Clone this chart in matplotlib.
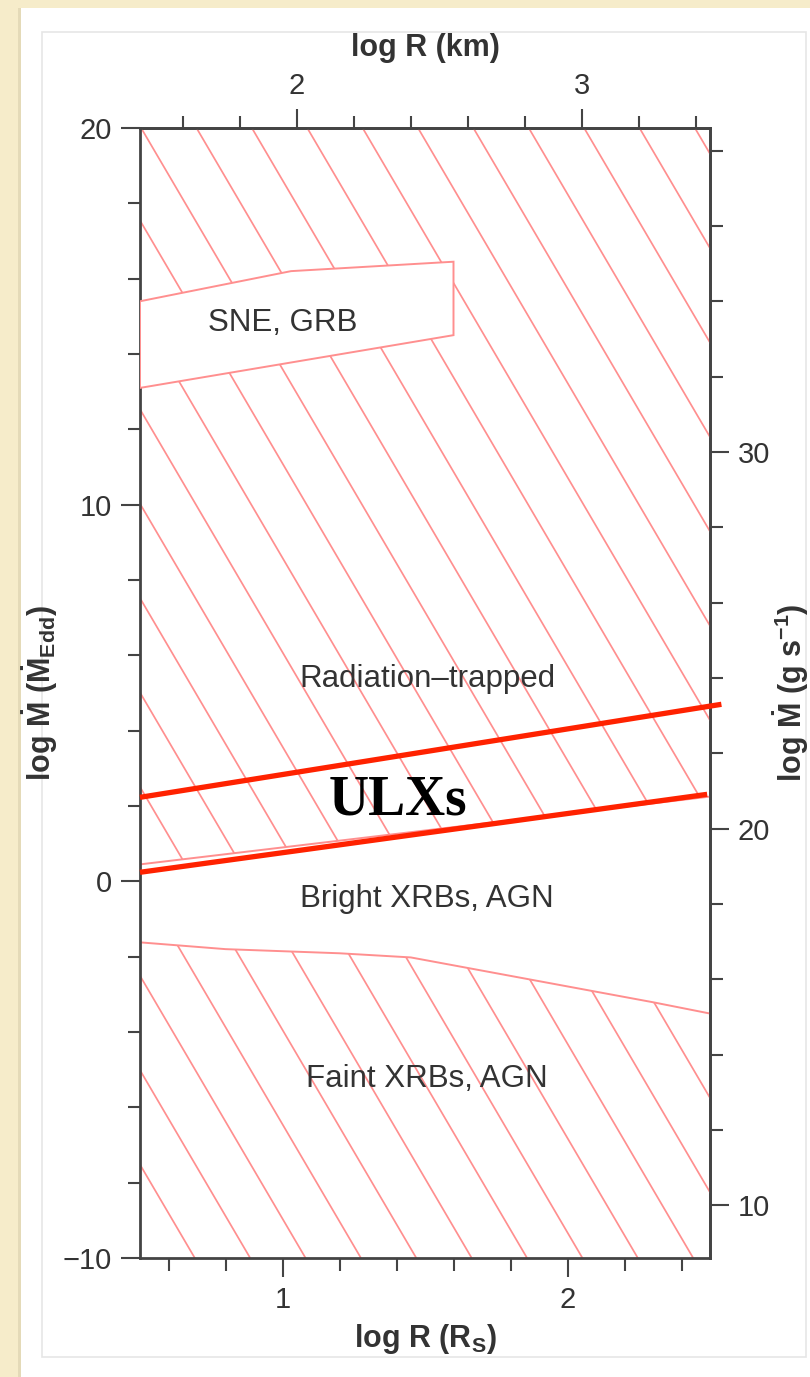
import numpy as np
import matplotlib
matplotlib.use("Agg")
import matplotlib.pyplot as plt
from matplotlib.patches import Polygon, Rectangle
from matplotlib.ticker import MultipleLocator, FixedLocator, FuncFormatter

# ---------------- data ----------------
x_range = [0.5, 2.5]          # log R (R_S)
y_range = [-10, 20]           # log Mdot (Mdot_Edd)
km_offset = 0.95              # log R(km) - log R(R_S)
gs_offset = 18.6              # log Mdot(g/s) - log Mdot(Edd)

sne_x = [0.5, 1.03, 1.6, 1.6, 0.5]
sne_y = [15.4, 16.2, 16.45, 14.5, 13.1]

trapped_low_x = [0.5, 2.5]
trapped_low_y = [0.45, 2.25]

faint_top_x = [0.5, 0.8, 1.2, 1.45, 1.65, 1.9, 2.1, 2.3, 2.5]
faint_top_y = [-1.62, -1.8, -1.91, -2.02, -2.3, -2.65, -2.93, -3.21, -3.51]

ulx_upper_x = [0.5, 2.54]
ulx_upper_y = [2.23, 4.70]
ulx_lower_x = [0.5, 2.49]
ulx_lower_y = [0.24, 2.31]

region_labels = ["SNE, GRB", "Radiation\u2013trapped", "Bright XRBs, AGN", "Faint XRBs, AGN"]
label_x = [1.0, 1.51, 1.507, 1.505]
label_y = [14.6, 5.15, -0.69, -5.47]

bottom_major = [1, 2]
top_major = [2, 3]

# ---------------- style ----------------
plt.rcParams['font.family'] = ['Liberation Sans', 'DejaVu Sans']
plt.rcParams['mathtext.fontset'] = 'custom'
plt.rcParams['mathtext.rm'] = 'Liberation Sans'
plt.rcParams['mathtext.bf'] = 'Liberation Sans:bold'
plt.rcParams['mathtext.it'] = 'Liberation Sans:italic'

BEIGE = '#f6ecca'
PINK = '#ff8f8f'
RED = '#ff2200'
SPINE = '#444444'
TXT = '#333333'

W, H = 810, 1377
fig = plt.figure(figsize=(W / 100, H / 100), dpi=100, facecolor=BEIGE)
# white panel and faint inner frame
fig.patches.append(Rectangle((18 / W, 0), 3 / W, 1 - 8 / H, transform=fig.transFigure,
                             facecolor='#e4dab8', edgecolor='none', zorder=-11))
fig.patches.append(Rectangle((21 / W, 0), 1 - 21 / W, 1 - 8 / H, transform=fig.transFigure,
                             facecolor='white', edgecolor='none', zorder=-10))
fig.patches.append(Rectangle((42 / W, (H - 1357) / H), (806 - 42) / W, (1357 - 32) / H,
                             transform=fig.transFigure, fill=False, edgecolor='#e6e6e6',
                             lw=1.2, zorder=-9))

ax = fig.add_axes([140 / W, (H - 1258) / H, 570 / W, 1130 / H])
ax.set_facecolor('white')
ax.set_xlim(*x_range)
ax.set_ylim(*y_range)

# ---------------- hatched regions ----------------
upper_poly = Polygon(list(zip(trapped_low_x, trapped_low_y)) +
                     [(x_range[1], y_range[1]), (x_range[0], y_range[1])],
                     closed=True, facecolor='none', edgecolor='none')
lower_poly = Polygon(list(zip(faint_top_x, faint_top_y)) +
                     [(x_range[1], y_range[0]), (x_range[0], y_range[0])],
                     closed=True, facecolor='none', edgecolor='none')
ax.add_patch(upper_poly)
ax.add_patch(lower_poly)

hx0, hdx, hslope = 0.504, 0.1943, -12.9
span = (y_range[1] - y_range[0]) / -hslope
for poly in (upper_poly, lower_poly):
    for k in range(-14, 12):
        xk = hx0 + k * hdx
        ln, = ax.plot([xk, xk + span], [y_range[1], y_range[0]], color=PINK, lw=1.25,
                      solid_capstyle='butt', zorder=1)
        ln.set_clip_path(poly)

ax.plot(trapped_low_x, trapped_low_y, color=PINK, lw=1.4, zorder=2)
ax.plot(faint_top_x, faint_top_y, color=PINK, lw=1.4, zorder=2)
ax.add_patch(Polygon(list(zip(sne_x, sne_y)), closed=True, facecolor='white',
                     edgecolor=PINK, lw=1.4, zorder=3))

# ---------------- ULX lines ----------------
ax.plot(ulx_upper_x, ulx_upper_y, color=RED, lw=3.8, solid_capstyle='butt',
        zorder=5, clip_on=False)
ax.plot(ulx_lower_x, ulx_lower_y, color=RED, lw=3.8, solid_capstyle='butt',
        zorder=5, clip_on=False)

# ---------------- labels ----------------
for t, x, y in zip(region_labels, label_x, label_y):
    ax.text(x, y, t, ha='center', va='baseline', fontsize=22.5, color=TXT, zorder=6)
ax.text(1.404, 1.78, 'ULXs', ha='center', va='baseline', fontsize=40,
        fontweight='bold', family=['Liberation Serif', 'DejaVu Serif'], color='black', zorder=6)

# ---------------- axes / ticks ----------------
fmt = FuncFormatter(lambda v, p: f'{v:.0f}'.replace('-', '\u2212'))
for s in ax.spines.values():
    s.set_linewidth(2.0)
    s.set_color(SPINE)

def style_ticks(a):
    a.tick_params(which='both', direction='out', color=SPINE, width=1.5,
                  labelsize=21, labelcolor=TXT, pad=6)
    a.tick_params(which='major', length=14)
    a.tick_params(which='minor', length=9)

ax.xaxis.set_major_locator(FixedLocator(bottom_major))
ax.xaxis.set_minor_locator(MultipleLocator(0.2))
ax.yaxis.set_major_locator(MultipleLocator(10))
ax.yaxis.set_minor_locator(MultipleLocator(2))
ax.xaxis.set_major_formatter(fmt)
ax.yaxis.set_major_formatter(fmt)
style_ticks(ax)
ax.tick_params(which='both', top=False, right=False)

secx = ax.secondary_xaxis('top', functions=(lambda x: x + km_offset, lambda x: x - km_offset))
secx.xaxis.set_major_locator(FixedLocator(top_major))
secx.xaxis.set_minor_locator(MultipleLocator(0.2))
secx.xaxis.set_major_formatter(fmt)
style_ticks(secx)
secx.spines['top'].set_linewidth(2.0)
secx.spines['top'].set_color(SPINE)

secy = ax.secondary_yaxis('right', functions=(lambda y: y + gs_offset, lambda y: y - gs_offset))
secy.yaxis.set_major_locator(MultipleLocator(10))
secy.yaxis.set_minor_locator(MultipleLocator(2))
secy.yaxis.set_major_formatter(fmt)
style_ticks(secy)
secy.spines['right'].set_linewidth(2.0)
secy.spines['right'].set_color(SPINE)

lab = dict(fontsize=22, fontweight='bold', color=TXT)
ax.set_xlabel(r'log R (R$_{\mathbf{S}}$)', labelpad=6, **lab)
secx.set_xlabel('log R (km)', labelpad=12, **lab)
ax.set_ylabel(r'log $\mathbf{\dot{M}}$ ($\mathbf{\dot{M}_{Edd}}$)', labelpad=2, **lab)
secy.set_ylabel(r'log $\mathbf{\dot{M}}$ (g s$^{\mathbf{-1}}$)', labelpad=1, **lab)

fig.savefig('out.png', dpi=100, facecolor=BEIGE)
